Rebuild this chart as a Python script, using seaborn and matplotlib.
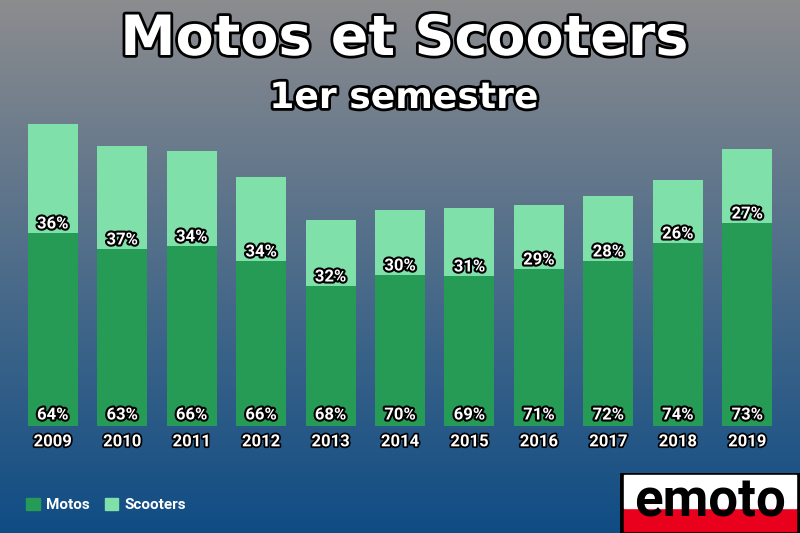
import numpy as np
import pandas as pd
import matplotlib
matplotlib.use("Agg")
import matplotlib.pyplot as plt
import matplotlib.patheffects as pe
import seaborn as sns

plt.rcParams["font.family"] = "Roboto"

years = ["2009","2010","2011","2012","2013","2014","2015","2016","2017","2018","2019"]
motos = [193,177,180,165,140,151,150,157,165,183,203]
scooters = [109,103,95,84,66,65,68,64,65,63,74]
pct_motos = [64,63,66,66,68,70,69,71,72,74,73]
pct_scoot = [36,37,34,34,32,30,31,29,28,26,27]

totals = [m+s for m,s in zip(motos,scooters)]
df = pd.DataFrame({"year":years,"motos":motos,"total":totals})

W,H = 800,533
fig = plt.figure(figsize=(8,5.33),dpi=100)
bg = fig.add_axes([0,0,1,1]); bg.axis("off")
top = np.array([0.55,0.55,0.56]); bot = np.array([0.06,0.30,0.52])
t = np.linspace(0,1,256)[:,None]
grad = top*(1-t)+bot*t
bg.imshow(grad[:,None,:].repeat(2,axis=1),aspect="auto",extent=[0,1,0,1])
bg.set_xlim(0,1); bg.set_ylim(0,1)

ax = fig.add_axes([18/W,1-426/H,764/W,(426-110)/H])
ax.patch.set_alpha(0)
c_m = "#269b56"; c_s = "#80e0aa"
sns.barplot(data=df,x="year",y="total",color=c_s,width=0.72,saturation=1,ax=ax)
sns.barplot(data=df,x="year",y="motos",color=c_m,width=0.72,saturation=1,ax=ax)
ax.set_ylim(0,316)
ax.set_xlim(-0.5,len(years)-0.5)
for s in ax.spines.values(): s.set_visible(False)
ax.set_yticks([]); ax.set_xlabel(""); ax.set_ylabel("")
ax.tick_params(axis="x",length=0,pad=6,labelsize=12,colors="white")
for lab in ax.get_xticklabels():
    lab.set_fontweight("bold")
    lab.set_path_effects([pe.withStroke(linewidth=2.5,foreground="black")])
stroke=[pe.withStroke(linewidth=3,foreground="black")]
for i in range(len(years)):
    ax.text(i,11,f"{pct_motos[i]}%",ha="center",va="center",color="white",fontsize=12,fontweight="bold",path_effects=stroke)
    ax.text(i,motos[i]+9,f"{pct_scoot[i]}%",ha="center",va="center",color="white",fontsize=12,fontweight="bold",path_effects=stroke)

st=[pe.withStroke(linewidth=4,foreground="black")]
fig.text(0.505,1-40/H,"Motos et Scooters",ha="center",va="center",color="white",fontsize=40,fontweight="bold",family="DejaVu Sans",path_effects=st)
fig.text(0.505,1-98/H,"1er semestre",ha="center",va="center",color="white",fontsize=26,fontweight="bold",family="DejaVu Sans",path_effects=st)

from matplotlib.patches import Patch
leg = fig.legend(handles=[Patch(color=c_m,label="Motos"),Patch(color=c_s,label="Scooters")],
    loc="center left",bbox_to_anchor=(0.015,1-505/H),ncol=2,frameon=False,
    handlelength=0.9,handleheight=0.9,columnspacing=1.0,handletextpad=0.4,
    prop={"size":11,"weight":"bold"})
for tx in leg.get_texts(): tx.set_color("white")

lg = fig.add_axes([620/W,0,180/W,60/H]); lg.axis("off")
lg.add_patch(plt.Rectangle((0,0),1,1,color="black",transform=lg.transAxes))
lg.add_patch(plt.Rectangle((0.02,0.03),0.96,0.38,color="#e8001c",transform=lg.transAxes))
lg.add_patch(plt.Rectangle((0.02,0.41),0.96,0.55,color="white",transform=lg.transAxes))
lg.text(0.5,0.52,"emoto",ha="center",va="center",fontsize=38,fontweight="bold",color="black",transform=lg.transAxes)
fig.savefig("out.png",dpi=100)
